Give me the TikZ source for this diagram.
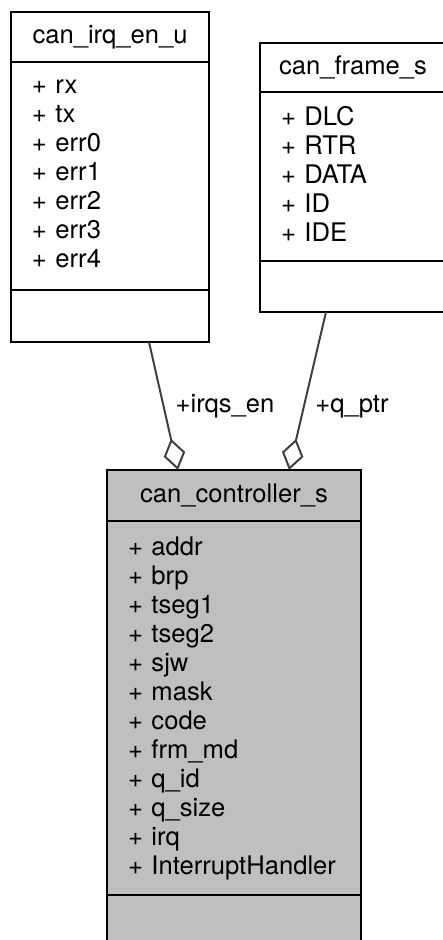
\documentclass[tikz,border=0pt]{standalone}
\usepackage{fontspec}
\setmainfont{TeX Gyre Heros}
\usetikzlibrary{arrows.meta,positioning}

\definecolor{edgegrey}{HTML}{404040}
\definecolor{classgrey}{HTML}{BFBFBF}
\newcommand{\mstrut}{\rule[-2.35pt]{0pt}{9pt}}

\begin{document}
\begin{tikzpicture}[x=0.5pt,y=-0.5pt,
    part/.style={draw, line width=1pt, outer sep=0pt, inner sep=0pt, font=\fontsize{12.8}{14.5}\selectfont},
    classtitle/.style={part, text height=9pt, text depth=2.35pt},
    classattrs/.style={part, align=left, inner xsep=10.5pt, execute at begin node=\mstrut, execute at end node=\mstrut},
    aggr/.style={draw=edgegrey, line width=1pt, -{Diamond[open,length=16pt,width=11pt]}},
    lbl/.style={font=\fontsize{12.8}{14.5}\selectfont, inner sep=0pt}
]
    \clip (0,0) rectangle (443,940);

    % can_irq_en_u
    \node[classtitle, minimum width=99pt, minimum height=25pt] (irqtitle) at (110,37) {can\_irq\_en\_u};
    \node[classattrs, text width=78pt, minimum height=114pt, below=0pt of irqtitle] (irqattrs)
        {+ rx\\+ tx\\+ err0\\+ err1\\+ err2\\+ err3\\+ err4};
    \node[part, minimum width=99pt, minimum height=26pt, below=0pt of irqattrs] (irqops) {};

    % can_frame_s
    \node[classtitle, minimum width=93pt, minimum height=24.5pt] (frametitle) at (353,67.5) {can\_frame\_s};
    \node[classattrs, text width=72pt, minimum height=84.5pt, below=0pt of frametitle] (frameattrs)
        {+ DLC\\+ RTR\\+ DATA\\+ ID\\+ IDE};
    \node[part, minimum width=93pt, minimum height=25.5pt, below=0pt of frameattrs] (frameops) {};

    % can_controller_s
    \node[classtitle, fill=classgrey, minimum width=127pt, minimum height=25.5pt] (ctrltitle) at (234,495.5) {can\_controller\_s};
    \node[classattrs, fill=classgrey, text width=106pt, minimum height=187pt, below=0pt of ctrltitle] (ctrlattrs)
        {+ addr\\+ brp\\+ tseg1\\+ tseg2\\+ sjw\\+ mask\\+ code\\+ frm\_md\\+ q\_id\\+ q\_size\\+ irq\\+ InterruptHandler};
    \node[part, fill=classgrey, minimum width=127pt, minimum height=25pt, below=0pt of ctrlattrs] (ctrlops) {};

    % aggregations
    \draw[aggr] ([xshift=69pt]irqops.south west) -- ([xshift=35.5pt]ctrltitle.north west);
    \draw[aggr] ([xshift=33pt]frameops.south west) -- ([xshift=91pt]ctrltitle.north west);
    \node[lbl, anchor=base] (irqlabel) at (225,412) {+irqs\_en};
    \node[lbl, anchor=base west] (ptrlabel) at (315,412) {+q\_ptr};
\end{tikzpicture}
\end{document}
